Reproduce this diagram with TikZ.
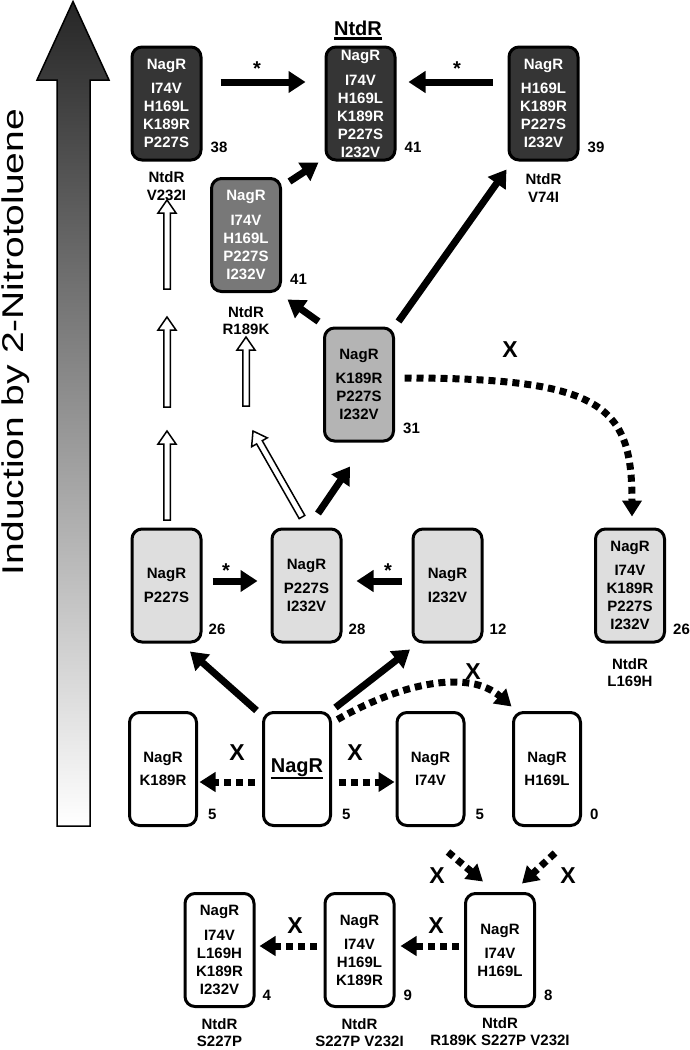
\documentclass[tikz,border=0pt]{standalone}
\usepackage{fontspec}
\setmainfont{Liberation Sans}
\usetikzlibrary{arrows.meta,calc}
\definecolor{cdark}{HTML}{353535}
\definecolor{cmid}{HTML}{787878}
\definecolor{clgt}{HTML}{B4B4B4}
\definecolor{cpale}{HTML}{DEDEDE}
\newcommand\ulinetext[2]{\setbox0\hbox{#2}\rlap{\rule[-#1]{\wd0}{2.2pt}}\box0}
\newcommand\harrow[2]{\draw[hollow] ($(#1)!3.25pt!90:(#2)$) -- ($(#2)!13pt!(#1)!3.25pt!-90:(#1)$) -- ($(#2)!13pt!(#1)!9pt!-90:(#1)$) -- (#2) -- ($(#2)!13pt!(#1)!9pt!90:(#1)$) -- ($(#2)!13pt!(#1)!3.25pt!90:(#1)$) -- ($(#1)!3.25pt!-90:(#2)$) -- cycle;}
\tikzset{
  box/.style={draw, line width=3pt, rounded corners=10pt, minimum width=69pt, minimum height=113pt, inner sep=0pt, align=center, font=\fontsize{15}{18}\selectfont\bfseries},
  dark/.style={box, fill=cdark, text=white},
  mid/.style={box, fill=cmid, text=white},
  lgt/.style={box, fill=clgt},
  pale/.style={box, fill=cpale},
  plain/.style={box, fill=white},
  val/.style={anchor=west, inner sep=0pt, font=\fontsize{15}{18}\selectfont\bfseries},
  note/.style={anchor=north, inner sep=0pt, align=center, font=\fontsize{15}{17.5}\selectfont\bfseries},
  sarr/.style={line width=7pt, -{Triangle[length=17pt,width=21pt]}},
  darr/.style={line width=7pt, dash pattern=on 7pt off 5pt, -{Triangle[length=16pt,width=19pt]}},
  xl/.style={inner sep=0pt, font=\fontsize{23}{23}\selectfont\bfseries},
  star/.style={anchor=base, inner sep=0pt, font=\fontsize{20}{20}\selectfont\bfseries},
  hollow/.style={draw, fill=white, line width=1.5pt, line join=miter}
}
\begin{document}
\begin{tikzpicture}[x=1pt,y=-1pt]
\useasboundingbox (0,0) rectangle (690,1050);
% big gradient arrow
\path[draw=black, line width=1.5pt, line join=miter, top color=black!85, bottom color=white]
  (57,826) -- (57,80) -- (37,80) -- (73,1.5) -- (109,80) -- (90,80) -- (90,826) -- cycle;
\node[rotate=90, inner sep=0pt] (lab) at (16,342) {\scalebox{1.3}[1]{\fontsize{30}{30}\selectfont Induction by 2-Nitrotoluene}};

% boxes
\node[dark] (b38) at (166.5,103.5) {NagR\\[6pt]I74V\\H169L\\K189R\\P227S};
\node[dark] (b41t) at (360.5,103.5) {NagR\\[7pt]I74V\\H169L\\K189R\\P227S\\I232V};
\node[dark] (b39) at (543.5,103.5) {NagR\\[6pt]H169L\\K189R\\P227S\\I232V};
\node[mid] (b41m) at (246,235) {NagR\\[7pt]I74V\\H169L\\P227S\\I232V};
\node[lgt] (b31) at (359,384.5) {NagR\\[6pt]K189R\\P227S\\I232V};
\node[pale] (b26a) at (166.5,585.5) {NagR\\[6pt]P227S};
\node[pale] (b28) at (306.5,585.5) {NagR\\[6pt]P227S\\I232V};
\node[pale] (b12) at (447.5,585.5) {NagR\\[6pt]I232V};
\node[pale] (b26b) at (630,585.5) {NagR\\[6pt]I74V\\K189R\\P227S\\I232V};
\node[plain, minimum width=67pt] (bK) at (163,769) {NagR\\[5pt]K189R};
\node[plain, minimum width=67pt, font=\fontsize{20}{20}\selectfont\bfseries] (bWT) at (297,769) {\ulinetext{6.7pt}{NagR}};
\node[plain, minimum width=67pt] (bI) at (430.5,769) {NagR\\[5pt]I74V};
\node[plain, minimum width=67pt] (bH) at (547,769) {NagR\\[5pt]H169L};
\node[plain] (b4) at (219.5,950) {NagR\\[7pt]I74V\\L169H\\K189R\\I232V};
\node[plain] (b9) at (359.5,950) {NagR\\[6pt]I74V\\H169L\\K189R};
\node[plain] (b8) at (500,950) {NagR\\[6pt]I74V\\H169L};

% title
\node[anchor=base, inner sep=0pt, font=\fontsize{20}{20}\selectfont\bfseries] (title) at (358,35) {\ulinetext{4.5pt}{NtdR}};

% values
\node[val] (v38) at ([shift={(8,-14)}]b38.south east) {38};
\node[val] (v41t) at ([shift={(8,-14)}]b41t.south east) {41};
\node[val] (v39) at ([shift={(8,-14)}]b39.south east) {39};
\node[val] (v41m) at ([shift={(8,-14)}]b41m.south east) {41};
\node[val] (v31) at ([shift={(8,-14)}]b31.south east) {31};
\node[val] (v26a) at ([shift={(6,-14)}]b26a.south east) {26};
\node[val] (v28) at ([shift={(6,-14)}]b28.south east) {28};
\node[val] (v12) at ([shift={(6,-14)}]b12.south east) {12};
\node[val] (v26b) at ([shift={(7,-14)}]b26b.south east) {26};
\node[val] (vK) at ([shift={(10,-13)}]bK.south east) {5};
\node[val] (vWT) at ([shift={(10,-13)}]bWT.south east) {5};
\node[val] (vI) at ([shift={(10,-13)}]bI.south east) {5};
\node[val] (vH) at ([shift={(8,-13)}]bH.south east) {0};
\node[val] (v4) at ([shift={(7,-13)}]b4.south east) {4};
\node[val] (v9) at ([shift={(8,-13)}]b9.south east) {9};
\node[val] (v8) at ([shift={(8,-13)}]b8.south east) {8};

% notes
\node[note] (n38) at ([shift={(0,10)}]b38.south) {NtdR\\V232I};
\node[note] (n39) at ([shift={(0,12)}]b39.south) {NtdR\\V74I};
\node[note] (n41m) at ([shift={(0,13)}]b41m.south) {NtdR\\R189K};
\node[note] (n26b) at ([shift={(0,14.5)}]b26b.south) {NtdR\\L169H};
\node[note] (n4) at ([shift={(0,10)}]b4.south) {NtdR\\S227P};
\node[note] (n9) at ([shift={(0,10)}]b9.south) {NtdR\\S227P V232I};
\node[note] (n8) at ([shift={(0,9)}]b8.south) {NtdR\\R189K S227P V232I};

% solid arrows
\draw[sarr] ([shift={(18,-21.5)}]b38.east) -- ([shift={(-19,-21.5)}]b41t.west);
\draw[sarr] ([shift={(-15,-21.5)}]b39.west) -- ([shift={(12,-21.5)}]b41t.east);
\draw[sarr] ([shift={(7.5,4.5)}]b41m.north east) -- ([shift={(-6,1)}]b41t.south west);
\draw[sarr] ([shift={(-4.5,-5)}]b31.north west) -- ([shift={(5.5,6.5)}]b41m.south east);
\draw[sarr] ([shift={(3.5,-5)}]b31.north east) -- ([shift={(-1,8)}]b39.south west);
\draw[sarr] ([shift={(11.5,-14)}]b28.north) -- ([shift={(-9,24)}]b31.south);
\draw[sarr] ([shift={(10,-4.5)}]b26a.east) -- ([shift={(-13,-4.5)}]b28.west);
\draw[sarr] ([shift={(-10,-4.5)}]b12.west) -- ([shift={(14,-4.5)}]b28.east);
\draw[sarr] ([shift={(-5.5,-0.5)}]bWT.north west) -- ([shift={(23.5,8)}]b26a.south);
\draw[sarr] ([shift={(3.5,-3.5)}]bWT.north east) -- ([shift={(-37.5,6)}]b12.south);

% stars
\node[star] (s1) at (257,75) {*};
\node[star] (s2) at (457,75) {*};
\node[star] (s3) at (226,577) {*};
\node[star] (s4) at (388,577) {*};

% dotted arrows
\draw[darr] ([shift={(-7.5,13)}]bWT.west) -- ([shift={(1.5,13)}]bK.east);
\draw[darr] ([shift={(6.5,13)}]bWT.east) -- ([shift={(-1,13)}]bI.west);
\draw[darr] ([shift={(5.5,8.5)}]bWT.north east) .. controls +(63,-36) and +(-43,-38) .. ([shift={(-0.5,-4.5)}]bH.north west);
\draw[darr] ([shift={(9.5,-6.5)}]b31.east) .. controls +(200,0) and +(0,-110) .. ([shift={(2,-11)}]b26b.north);
\draw[darr] ([shift={(-5.5,-4)}]b8.west) -- ([shift={(5,-4)}]b9.east);
\draw[darr] ([shift={(-7,-4)}]b9.west) -- ([shift={(4,-4)}]b4.east);
\coordinate (fl) at (448,852);
\coordinate (fr) at (555,853);
\draw[darr] (fl) -- ([shift={(-17,-10.5)}]b8.north);
\draw[darr] (fr) -- ([shift={(22,-8.5)}]b8.north);

% X labels
\node[xl] (x1) at (237,753) {X};
\node[xl] (x2) at (355,753) {X};
\node[xl] (x3) at (473,672) {X};
\node[xl] (x4) at (510,350) {X};
\node[xl] (x5) at (436,926) {X};
\node[xl] (x6) at (295,926) {X};
\node[xl] (x7) at (437,876) {X};
\node[xl] (x8) at (568,876) {X};

% hollow arrows
\coordinate (h1a) at (167,289); \coordinate (h1b) at (167,200);
\coordinate (h2a) at (167,407); \coordinate (h2b) at (167,317);
\coordinate (h3a) at (167,520); \coordinate (h3b) at (167,431);
\coordinate (h4a) at (246,406); \coordinate (h4b) at (246,337);
\coordinate (h5a) at (302,517); \coordinate (h5b) at (253,431);
\harrow{h1a}{h1b}
\harrow{h2a}{h2b}
\harrow{h3a}{h3b}
\harrow{h4a}{h4b}
\harrow{h5a}{h5b}
\end{tikzpicture}
\end{document}
